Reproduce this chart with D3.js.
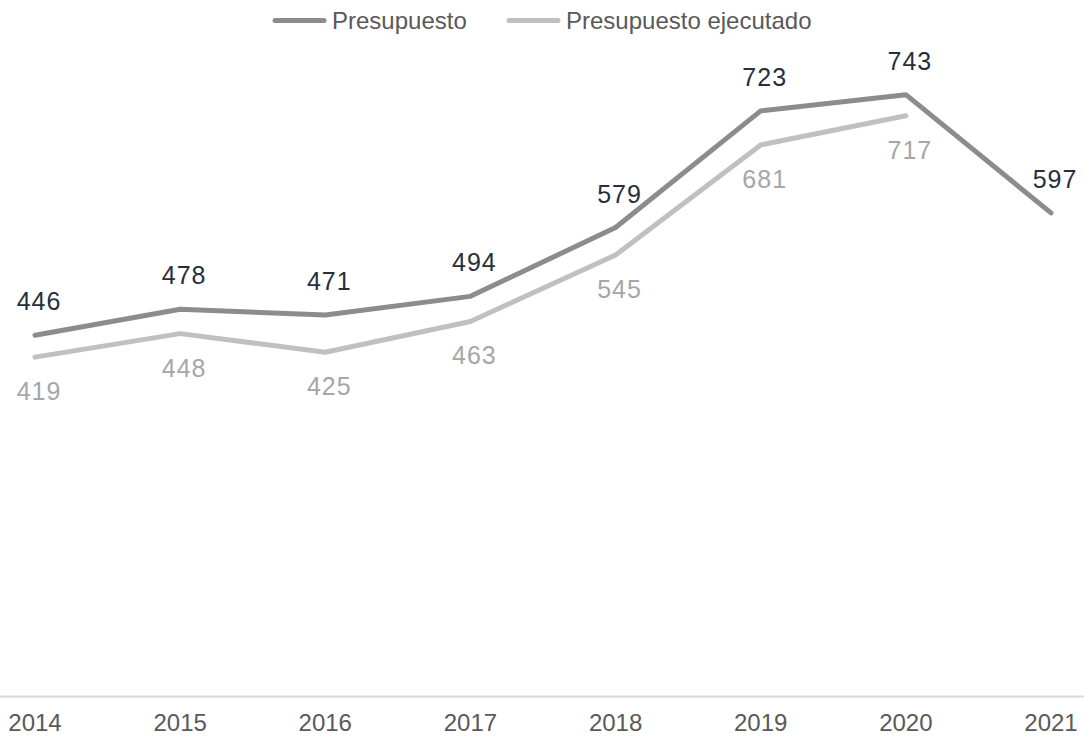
<!DOCTYPE html>
<html>
<head>
<meta charset="utf-8">
<script src="https://cdn.jsdelivr.net/npm/d3@7"></script>
<style>
  html, body { margin: 0; padding: 0; background: #fff; }
  svg { display: block; font-family: "Liberation Sans", Arial, sans-serif; }
</style>
</head>
<body>
<svg id="chart" width="1084" height="737"></svg>
<script>
const years = ["2014", "2015", "2016", "2017", "2018", "2019", "2020", "2021"];
const presupuesto = [446, 478, 471, 494, 579, 723, 743, 597];
const ejecutado = [419, 448, 425, 463, 545, 681, 717, null];
const seriesNames = ["Presupuesto", "Presupuesto ejecutado"];

const W = 1084, H = 737;
const svg = d3.select("#chart");

const x = d3.scalePoint().domain(years).range([35, 1051]);
const y = d3.scaleLinear().domain([0, 800]).range([696.5, 48.5]);

// x axis line (full width)
svg.append("line")
  .attr("x1", 0).attr("x2", W)
  .attr("y1", y(0)).attr("y2", y(0))
  .attr("stroke", "#d9d9d9").attr("stroke-width", 2);

// x axis labels
svg.append("g").selectAll("text")
  .data(years).join("text")
  .attr("x", d => x(d))
  .attr("y", 731)
  .attr("text-anchor", "middle")
  .attr("font-size", 24)
  .attr("fill", "#595959")
  .text(d => d);

const line = d3.line()
  .defined(d => d.v != null)
  .x(d => x(d.year))
  .y(d => y(d.v));

const s1 = years.map((yr, i) => ({ year: yr, v: presupuesto[i] }));
const s2 = years.map((yr, i) => ({ year: yr, v: ejecutado[i] }));

svg.append("path").datum(s2)
  .attr("fill", "none").attr("stroke", "#c0c0c0")
  .attr("stroke-width", 5).attr("stroke-linecap", "round").attr("stroke-linejoin", "round")
  .attr("d", line);

svg.append("path").datum(s1)
  .attr("fill", "none").attr("stroke", "#8c8c8c")
  .attr("stroke-width", 5).attr("stroke-linecap", "round").attr("stroke-linejoin", "round")
  .attr("d", line);

// data labels
svg.append("g").selectAll("text")
  .data(s1).join("text")
  .attr("x", d => x(d.year) + 4)
  .attr("y", d => y(d.v) - 25)
  .attr("text-anchor", "middle")
  .attr("font-size", 25)
  .attr("letter-spacing", 1)
  .attr("fill", "#262f3d")
  .text(d => d.v);

svg.append("g").selectAll("text")
  .data(s2.filter(d => d.v != null)).join("text")
  .attr("x", d => x(d.year) + 4)
  .attr("y", d => y(d.v) + 43)
  .attr("text-anchor", "middle")
  .attr("font-size", 25)
  .attr("letter-spacing", 1)
  .attr("fill", "#a6a6a6")
  .text(d => d.v);

// legend
const legend = [
  { name: seriesNames[0], color: "#8c8c8c", x0: 273 },
  { name: seriesNames[1], color: "#c0c0c0", x0: 507 }
];
const lg = svg.append("g");
legend.forEach(l => {
  lg.append("line")
    .attr("x1", l.x0 + 2).attr("x2", l.x0 + 51)
    .attr("y1", 20.5).attr("y2", 20.5)
    .attr("stroke", l.color).attr("stroke-width", 5).attr("stroke-linecap", "round");
  lg.append("text")
    .attr("x", l.x0 + 59)
    .attr("y", 29)
    .attr("font-size", 24)
    .attr("fill", "#595959")
    .text(l.name);
});
</script>
</body>
</html>
